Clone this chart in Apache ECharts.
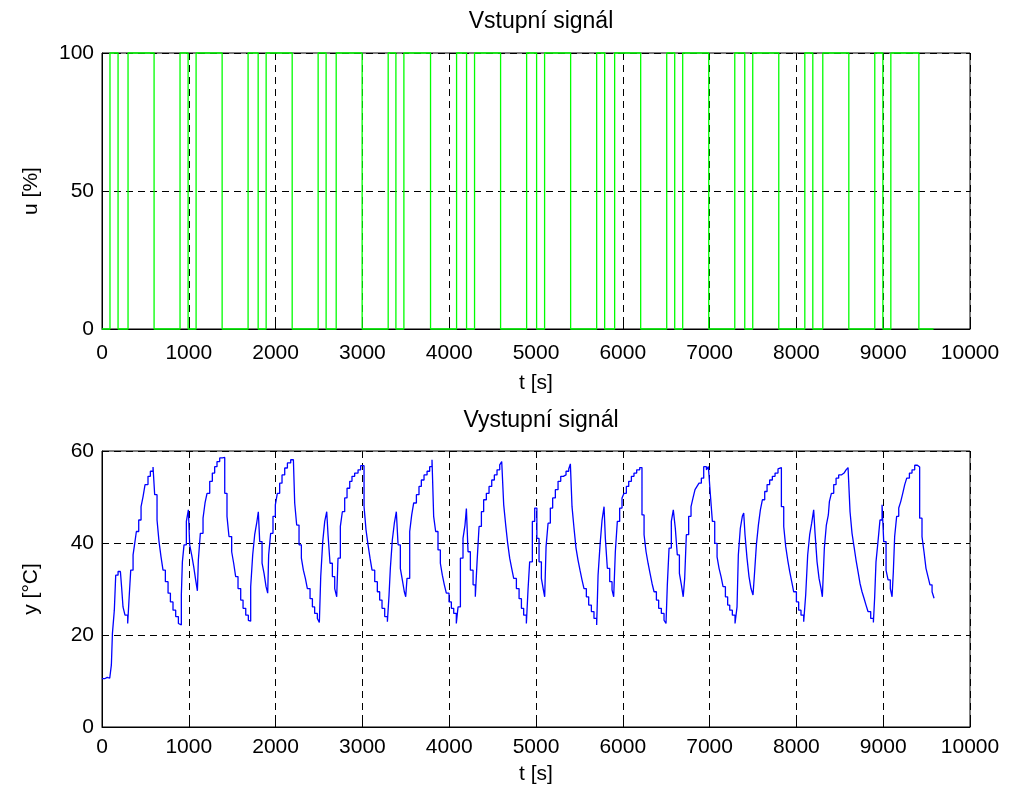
<!DOCTYPE html>
<html>
<head>
<meta charset="utf-8">
<script src="https://cdn.jsdelivr.net/npm/echarts@6/dist/echarts.min.js"></script>
<style>
html,body{margin:0;padding:0;background:#fff;}
#chart{width:1015px;height:799px;}
</style>
</head>
<body>
<div id="chart"></div>
<script>
// ---- data ----
const topTitle = 'Vstupní signál';
const bottomTitle = 'Vystupní signál';
const xName = 't [s]';
const uName = 'u [%]';
const yName = 'y [°C]';

// input signal: switching times [s] and level held from that time [%]
const uTimes = [0, 92, 185, 300, 600, 899, 992, 1084, 1384, 1683, 1799, 1891, 2191, 2490, 2582, 2698, 2997, 3297, 3386, 3478, 3785, 4085, 4200, 4292, 4592, 4892, 5007, 5099, 5399, 5699, 5791, 5906, 6206, 6506, 6598, 6690, 6990, 7290, 7405, 7497, 7797, 8097, 8189, 8304, 8604, 8903, 8996, 9088, 9411, 9580];
const uLevels = [0, 100, 0, 100, 0, 100, 0, 100, 0, 100, 0, 100, 0, 100, 0, 100, 0, 100, 0, 100, 0, 100, 0, 100, 0, 100, 0, 100, 0, 100, 0, 100, 0, 100, 0, 100, 0, 100, 0, 100, 0, 100, 0, 100, 0, 100, 0, 100, 0, 0];

// output signal samples [t s, y °C]
const outputSamples = [
[0,10.5],[30,10.8],[60,10.6],[89,11.0],[108,13.5],[120,20.3],[142,25.4],[158,33.0],[185,33.8],[212,33.6],[227,30.1],[242,26.1],[265,24.3],[296,22.5],
[311,27.6],[331,34.1],[358,37.4],[377,39.9],[396,42.5],[423,45.0],[450,47.9],[473,50.1],[496,52.7],[530,54.5],[557,55.6],[588,56.5],
[607,50.5],[634,45.0],[657,40.3],[680,37.0],[703,34.1],[730,31.6],[761,29.1],[788,27.2],[818,25.4],[849,24.0],[880,22.5],[899,22.2],
[914,28.7],[926,35.9],[945,39.6],[972,44.7],[995,47.2],
[1010,39.6],[1033,37.4],[1056,34.9],[1079,32.0],[1099,29.6],
[1110,36.3],[1133,42.1],[1164,45.4],[1187,48.7],[1210,50.8],[1241,53.4],[1271,55.2],[1298,56.6],[1325,57.7],[1356,58.5],[1387,58.6],
[1414,50.8],[1440,45.8],[1463,41.4],[1494,38.1],[1517,35.6],[1540,32.7],[1567,30.1],[1598,27.6],[1625,25.8],[1656,24.3],[1686,23.2],[1698,23.0],
[1713,30.5],[1736,37.4],[1759,41.8],[1782,44.3],[1801,46.8],
[1817,40.3],[1844,35.6],[1867,33.4],[1890,30.5],[1909,29.1],
[1920,37.4],[1943,42.1],[1970,45.8],[1997,48.3],[2020,50.8],[2047,53.0],[2074,54.8],[2105,56.3],[2136,57.4],[2174,58.1],[2205,58.5],
[2220,48.7],[2243,43.9],[2270,39.6],[2297,36.7],[2320,34.1],[2343,32.3],[2366,30.1],[2397,27.9],[2424,26.1],[2450,24.7],[2481,23.6],[2504,22.7],
[2520,32.7],[2543,40.3],[2566,44.7],[2589,46.8],
[2604,41.8],[2627,35.6],[2654,32.7],[2681,30.1],[2704,28.3],
[2719,36.7],[2746,43.6],[2769,46.8],[2796,49.8],[2823,51.9],[2854,53.4],[2880,54.5],[2911,55.2],[2950,55.9],[2980,56.8],
[3019,47.9],[3042,42.8],[3065,39.6],[3088,36.7],[3111,34.1],[3142,31.6],[3172,29.4],[3199,27.6],[3226,25.8],[3257,24.0],[3288,22.9],
[3307,28.7],[3322,34.5],[3345,40.7],[3368,44.3],[3391,46.8],
[3411,39.6],[3437,34.5],[3460,32.0],[3483,29.4],[3499,28.3],
[3514,32.3],[3545,42.5],[3568,46.1],[3591,48.7],[3622,50.5],[3652,52.3],[3679,53.7],[3710,54.8],[3745,55.6],[3775,56.6],[3802,58.1],
[3821,45.8],[3844,42.5],[3871,38.5],[3898,35.6],[3921,33.0],[3944,30.9],[3967,29.1],[3998,27.2],[4025,25.8],[4052,24.7],[4082,22.5],
[4102,26.1],[4129,36.7],[4159,41.0],[4182,43.9],[4198,47.5],
[4217,38.1],[4244,34.1],[4275,30.9],[4301,28.3],
[4321,35.9],[4344,43.6],[4371,46.8],[4397,49.4],[4428,50.8],[4459,52.3],[4490,53.7],[4520,54.8],[4551,55.9],[4582,57.0],[4605,57.7],
[4628,48.3],[4651,43.9],[4674,39.9],[4697,36.7],[4720,34.5],[4743,32.3],[4774,30.1],[4805,27.9],[4832,25.8],[4858,24.3],[4889,22.5],
[4908,29.8],[4927,35.9],[4958,44.7],[4985,47.6],
[5010,41.0],[5035,35.9],[5062,32.3],[5085,29.8],[5100,28.3],
[5116,39.2],[5139,44.3],[5165,47.6],[5192,49.8],[5223,51.6],[5254,53.4],[5285,54.5],[5315,54.8],[5346,55.6],[5377,56.1],[5396,57.2],
[5415,47.9],[5438,43.2],[5461,38.9],[5484,36.3],[5507,34.1],[5530,32.0],[5553,30.1],[5580,28.3],[5607,26.5],[5638,25.1],[5668,23.6],[5699,22.2],
[5715,33.0],[5738,39.6],[5761,45.0],[5784,47.9],
[5799,41.0],[5822,34.5],[5849,31.6],[5876,29.8],[5895,28.3],
[5914,38.1],[5937,44.7],[5964,47.6],[5991,49.8],[6014,50.8],[6041,52.3],[6068,53.4],[6099,54.5],[6129,55.2],[6160,55.9],[6195,56.4],
[6221,46.1],[6245,41.8],[6268,38.1],[6291,35.6],[6314,33.4],[6337,31.2],[6360,29.4],[6387,27.6],[6413,25.8],[6444,24.7],[6475,23.2],[6498,22.5],
[6513,30.9],[6533,38.9],[6559,44.7],[6582,47.2],
[6605,43.2],[6628,37.4],[6652,33.4],[6675,30.9],[6696,28.3],
[6713,32.3],[6732,41.8],[6759,45.8],[6786,47.9],[6809,49.8],[6832,51.6],[6855,52.3],[6878,53.0],[6905,54.1],[6932,56.6],[6963,55.9],[6986,56.6],
[7009,50.5],[7032,44.7],[7059,39.9],[7086,37.0],[7109,34.5],[7132,32.7],[7155,30.5],[7182,28.3],[7208,26.5],[7232,25.4],[7262,24.3],[7293,22.5],
[7316,26.1],[7331,37.4],[7354,43.2],[7377,45.8],[7393,46.5],
[7408,41.8],[7431,36.7],[7454,32.7],[7477,30.1],[7500,28.7],
[7516,33.0],[7539,39.6],[7562,43.9],[7585,47.2],[7608,49.4],[7635,51.2],[7662,52.7],[7692,53.7],[7723,54.5],[7754,55.2],[7788,56.1],[7807,56.4],
[7827,47.9],[7854,43.6],[7877,39.2],[7900,36.3],[7923,33.8],[7946,31.6],[7969,29.4],[8000,27.2],[8026,25.4],[8053,24.3],[8084,22.9],
[8107,28.7],[8130,37.4],[8153,41.8],[8176,44.3],[8199,47.2],
[8215,42.1],[8238,35.9],[8261,32.3],[8284,30.1],[8299,28.3],
[8322,38.9],[8345,43.9],[8368,46.1],[8380,49.0],[8403,50.8],[8430,52.7],[8457,54.1],[8487,54.8],[8518,55.2],[8549,55.6],[8572,55.9],[8595,56.4],
[8618,46.8],[8641,42.1],[8664,39.2],[8687,36.3],[8710,33.8],[8733,31.2],[8756,29.4],[8779,28.0],[8802,26.5],[8825,25.1],[8856,23.6],[8887,22.7],
[8902,28.3],[8917,35.9],[8940,40.3],[8963,45.0],[8987,48.3],
[9006,40.3],[9033,34.1],[9056,32.0],[9082,30.1],[9102,28.3],
[9117,33.8],[9132,41.4],[9155,45.8],[9179,47.6],[9202,49.0],[9225,50.8],[9248,52.7],[9271,54.1],[9302,55.2],[9332,55.9],[9363,56.9],[9394,56.5],
[9420,45.4],[9447,41.4],[9470,38.1],[9493,34.5],[9516,32.7],[9539,30.9],[9563,29.4],[9586,28.0]
];

// axis ranges and ticks
const xMin = 0, xMax = 10000, xStep = 1000;
const uMin = 0, uMax = 100, uStep = 50;
const yMin = 0, yMax = 60, yStep = 20;

// ---- chart ----
const FONT = 'Liberation Sans, Arial, Helvetica, sans-serif';
const uData = uTimes.map((t, i) => [t, uLevels[i]]);
const plain = v => String(v);

function xAxisCfg(gridIndex, labelMargin, nameGap) {
  return {
    gridIndex, type: 'value', min: xMin, max: xMax, interval: xStep,
    name: xName, nameLocation: 'middle', nameGap,
    nameTextStyle: {fontFamily: FONT, fontSize: 21, color: '#000'},
    axisLine: {show: true, onZero: false, lineStyle: {color: '#000', width: 1}},
    axisTick: {show: true, inside: true, length: 5, lineStyle: {color: '#000'}},
    axisLabel: {fontFamily: FONT, fontSize: 21, color: '#000', margin: labelMargin, formatter: plain},
    splitLine: {show: true, lineStyle: {color: '#000', type: [7, 5], width: 1}}
  };
}
function yAxisCfg(gridIndex, min, max, step, name) {
  return {
    gridIndex, type: 'value', min, max, interval: step,
    name, nameLocation: 'middle', nameGap: 60,
    nameTextStyle: {fontFamily: FONT, fontSize: 21, color: '#000'},
    axisLine: {show: true, lineStyle: {color: '#000', width: 1}},
    axisTick: {show: true, inside: true, length: 5, lineStyle: {color: '#000'}},
    axisLabel: {fontFamily: FONT, fontSize: 21, color: '#000', margin: 8, formatter: plain},
    splitLine: {show: true, lineStyle: {color: '#000', type: [7, 5], width: 1}}
  };
}

const chart = echarts.init(document.getElementById('chart'), null, {renderer: 'canvas'});
chart.setOption({
  backgroundColor: '#fff',
  animation: false,
  title: [
    {text: topTitle, left: 536, top: 5, textAlign: 'center',
     textStyle: {fontFamily: FONT, fontSize: 23, fontWeight: 'normal', color: '#000'}},
    {text: bottomTitle, left: 536, top: 404, textAlign: 'center',
     textStyle: {fontFamily: FONT, fontSize: 23, fontWeight: 'normal', color: '#000'}}
  ],
  grid: [
    {left: 102, top: 53, width: 868, height: 276, show: true, borderColor: '#000', borderWidth: 1, backgroundColor: '#fff'},
    {left: 102, top: 451, width: 868, height: 276, show: true, borderColor: '#000', borderWidth: 1, backgroundColor: '#fff'}
  ],
  xAxis: [xAxisCfg(0, 14, 44), xAxisCfg(1, 10, 37)],
  yAxis: [yAxisCfg(0, uMin, uMax, uStep, uName), yAxisCfg(1, yMin, yMax, yStep, yName)],
  series: [
    {type: 'line', xAxisIndex: 0, yAxisIndex: 0, data: uData, step: 'end',
     showSymbol: false, clip: false, lineStyle: {color: '#00ff00', width: 1.3}},
    {type: 'line', xAxisIndex: 1, yAxisIndex: 1, data: outputSamples, step: 'end',
     showSymbol: false, lineStyle: {color: '#0000ff', width: 1.3}}
  ]
});
</script>
</body>
</html>
